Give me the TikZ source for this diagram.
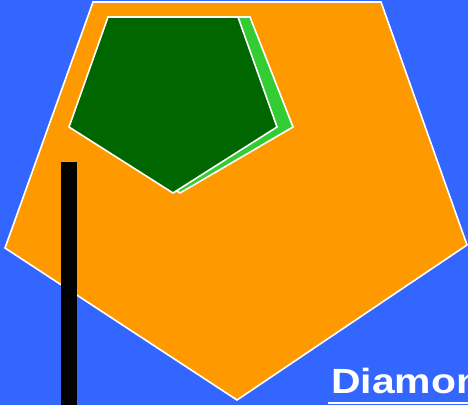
\documentclass[tikz,border=0pt]{standalone}
\usepackage{fontspec}
\setmainfont{Liberation Sans}
\newfontfamily\widesans[FakeStretch=1.17]{Liberation Sans}
\definecolor{bgblue}{RGB}{51,102,255}
\definecolor{shapeorange}{RGB}{255,153,0}
\definecolor{darkgreen}{RGB}{0,102,0}
\definecolor{lightgreen}{RGB}{51,204,51}

\begin{document}
\begin{tikzpicture}[
    x=1pt, y=-1pt,
    outline/.style={draw=white, line width=1.6pt, line join=miter},
    bar/.style={fill=black},
    caption/.style={anchor=base west, inner sep=0pt, text=white, font=\widesans\fontsize{35}{40}\selectfont\bfseries}
  ]
    \useasboundingbox (0,0) rectangle (468,405);
    \fill[bgblue] (0,0) rectangle (468,405);
    \clip (0,0) rectangle (468,405);
    % big pentagon
    \draw[outline, fill=shapeorange] (93,2) -- (381,2) -- (467,245) -- (237,400) -- (5,248) -- cycle;
    % green pentagon and its shadow
    \draw[outline, fill=lightgreen] (120,17) -- (250,17) -- (293,127) -- (180,193) -- (80,127) -- cycle;
    \draw[outline, fill=darkgreen] (108,17) -- (238,17) -- (277,127) -- (173,193) -- (69,127) -- cycle;
    \fill[bar] (61,162) rectangle (77,405);
    \node[caption] (title) at (331,393) {Diamond};
    \draw[white, line width=1.8pt] ([xshift=-3pt, yshift=-10pt]title.base west) -- ([yshift=-10pt]title.base east);
  \end{tikzpicture}
\end{document}
